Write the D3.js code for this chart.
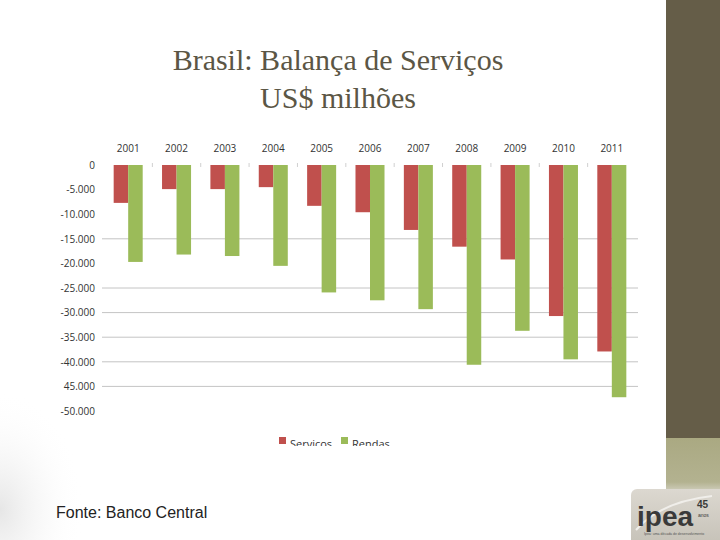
<!DOCTYPE html>
<html><head><meta charset="utf-8">
<script src="https://cdn.jsdelivr.net/npm/d3@7"></script>
<style>body{margin:0;background:#fff}svg{display:block}</style>
</head><body>
<svg id="c" width="720" height="540"></svg>
<script>
const years = ["2001","2002","2003","2004","2005","2006","2007","2008","2009","2010","2011"];
const servicos = [-7700,-4900,-4900,-4500,-8300,-9600,-13200,-16600,-19200,-30700,-37900];
const rendas = [-19700,-18200,-18500,-20500,-25900,-27500,-29300,-40600,-33700,-39500,-47200];
const seriesNames = ["Serviços","Rendas"];
const yTicks = [0,-5000,-10000,-15000,-20000,-25000,-30000,-35000,-40000,-45000,-50000];
const yTickLabels = ["0","-5.000","-10.000","-15.000","-20.000","-25.000","-30.000","-35.000","-40.000","45.000","-50.000"];
const gridValues = [-15000,-25000,-30000,-35000,-40000,-45000];
const colors = ["#c0504d","#9bbb59"];

const svg = d3.select("#c");
const defs = svg.append("defs");
const rg = defs.append("radialGradient").attr("id","bgL").attr("cx",0).attr("cy",0.85).attr("r",0.6);
rg.append("stop").attr("offset",0).attr("stop-color","#e6e6e6");
rg.append("stop").attr("offset",1).attr("stop-color","#ffffff").attr("stop-opacity",0);
const logoG = defs.append("linearGradient").attr("id","logoG").attr("x1",0).attr("x2",0).attr("y1",0).attr("y2",1);
logoG.append("stop").attr("offset",0).attr("stop-color","#dcd8d0");
logoG.append("stop").attr("offset",1).attr("stop-color","#c4c0b6");
const bandG = defs.append("linearGradient").attr("id","bandG").attr("x1",0).attr("x2",0).attr("y1",0).attr("y2",1);
bandG.append("stop").attr("offset",0).attr("stop-color","#aaa982");
bandG.append("stop").attr("offset",0.8).attr("stop-color","#b3b290");
bandG.append("stop").attr("offset",1).attr("stop-color","#d6d4c6");

svg.append("rect").attr("x",0).attr("y",0).attr("width",720).attr("height",540).attr("fill","#fff");
svg.append("rect").attr("x",0).attr("y",340).attr("width",140).attr("height",200).attr("fill","url(#bgL)");

// right side panel
svg.append("rect").attr("x",666).attr("y",0).attr("width",54).attr("height",438).attr("fill","#655d48");
svg.append("rect").attr("x",666).attr("y",438).attr("width",54).attr("height",55).attr("fill","url(#bandG)");

// title
const title = svg.append("text").attr("font-family","'Liberation Serif','DejaVu Serif',serif")
  .attr("font-size",30).attr("fill","#5b5645").attr("text-anchor","middle");
title.append("tspan").attr("x",338).attr("y",70).text("Brasil: Balança de Serviços");
title.append("tspan").attr("x",338).attr("y",108).text("US$ milhões");

// chart
const x = d3.scaleBand().domain(years).range([104,636]).paddingInner(0.4).paddingOuter(0.2);
const y = d3.scaleLinear().domain([-50000,0]).range([411,165]);
const xs = d3.scaleBand().domain(seriesNames).range([0,x.bandwidth()]);

const chart = svg.append("g");
chart.selectAll("line.grid").data(gridValues).join("line").attr("class","grid")
  .attr("x1",102).attr("x2",638).attr("y1",d=>y(d)).attr("y2",d=>y(d))
  .attr("stroke","#c4c4c4").attr("stroke-width",1);

const bounds = years.slice(1).map(yr => x(yr) - x.step()*x.paddingInner()/2);
chart.selectAll("line.tk").data(bounds).join("line").attr("class","tk")
  .attr("x1",d=>d).attr("x2",d=>d).attr("y1",y(0)-2).attr("y2",y(0)+2)
  .attr("stroke","#d0d0d0");

const data = [servicos, rendas];
seriesNames.forEach((s,i)=>{
  chart.selectAll("rect.s"+i).data(years.map((yr,j)=>({yr,v:data[i][j]}))).join("rect")
    .attr("class","s"+i)
    .attr("x",d=>x(d.yr)+xs(s)).attr("width",xs.bandwidth())
    .attr("y",y(0)).attr("height",d=>y(d.v)-y(0))
    .attr("fill",colors[i]);
});

const xAxis = d3.axisTop(x).tickSize(0).tickPadding(0);
const gx = chart.append("g").attr("transform","translate(0,152)").call(xAxis);
gx.select(".domain").remove();
gx.selectAll("text").attr("font-family","'Open Sans','DejaVu Sans',sans-serif").attr("font-size",10).attr("fill","#333");

const yAxis = d3.axisLeft(y).tickValues(yTicks).tickSize(0).tickPadding(0)
  .tickFormat((d,i)=>yTickLabels[i]);
const gy = chart.append("g").attr("transform","translate(95,0)").call(yAxis);
gy.select(".domain").remove();
gy.selectAll("text").attr("font-family","'Open Sans','DejaVu Sans',sans-serif").attr("font-size",10).attr("fill","#333");

// legend (clipped at bottom as in reference)
defs.append("clipPath").attr("id","legClip").append("rect").attr("x",260).attr("y",425).attr("width",160).attr("height",21);
const leg = svg.append("g").attr("clip-path","url(#legClip)");
const legX = [279,341];
seriesNames.forEach((s,i)=>{
  leg.append("rect").attr("x",legX[i]).attr("y",437).attr("width",7).attr("height",7).attr("fill",colors[i]);
  leg.append("text").attr("x",legX[i]+11).attr("y",448).attr("font-family","'Open Sans','DejaVu Sans',sans-serif")
    .attr("font-size",11).attr("fill","#333").text(s);
});

// source
svg.append("text").attr("x",56).attr("y",518).attr("font-family","'Liberation Sans',Arial,sans-serif")
  .attr("font-size",16).attr("fill","#222").text("Fonte: Banco Central");

// logo
svg.append("rect").attr("x",631).attr("y",489).attr("width",95).attr("height",60).attr("rx",6).attr("fill","url(#logoG)");
svg.append("path").attr("d","M636,530 Q660,502 712,496").attr("fill","none").attr("stroke","#f0eeea").attr("stroke-width",2);
svg.append("text").attr("x",637).attr("y",526).attr("font-family","'Liberation Sans',Arial,sans-serif").attr("font-weight","bold")
  .attr("font-size",28).attr("fill","#3a3a3a").text("ipea");
svg.append("text").attr("x",697).attr("y",508).attr("font-family","'Liberation Sans',Arial,sans-serif").attr("font-weight","bold")
  .attr("font-size",10).attr("fill","#3a3a3a").text("45");
svg.append("text").attr("x",698).attr("y",517).attr("font-family","'Liberation Sans',Arial,sans-serif")
  .attr("font-size",5).attr("fill","#3a3a3a").text("anos");
svg.append("text").attr("x",644).attr("y",535).attr("font-family","'Liberation Sans',Arial,sans-serif")
  .attr("font-size",3.5).attr("fill","#555").text("Ipea: uma década de desenvolvimento");
</script>
</body></html>
